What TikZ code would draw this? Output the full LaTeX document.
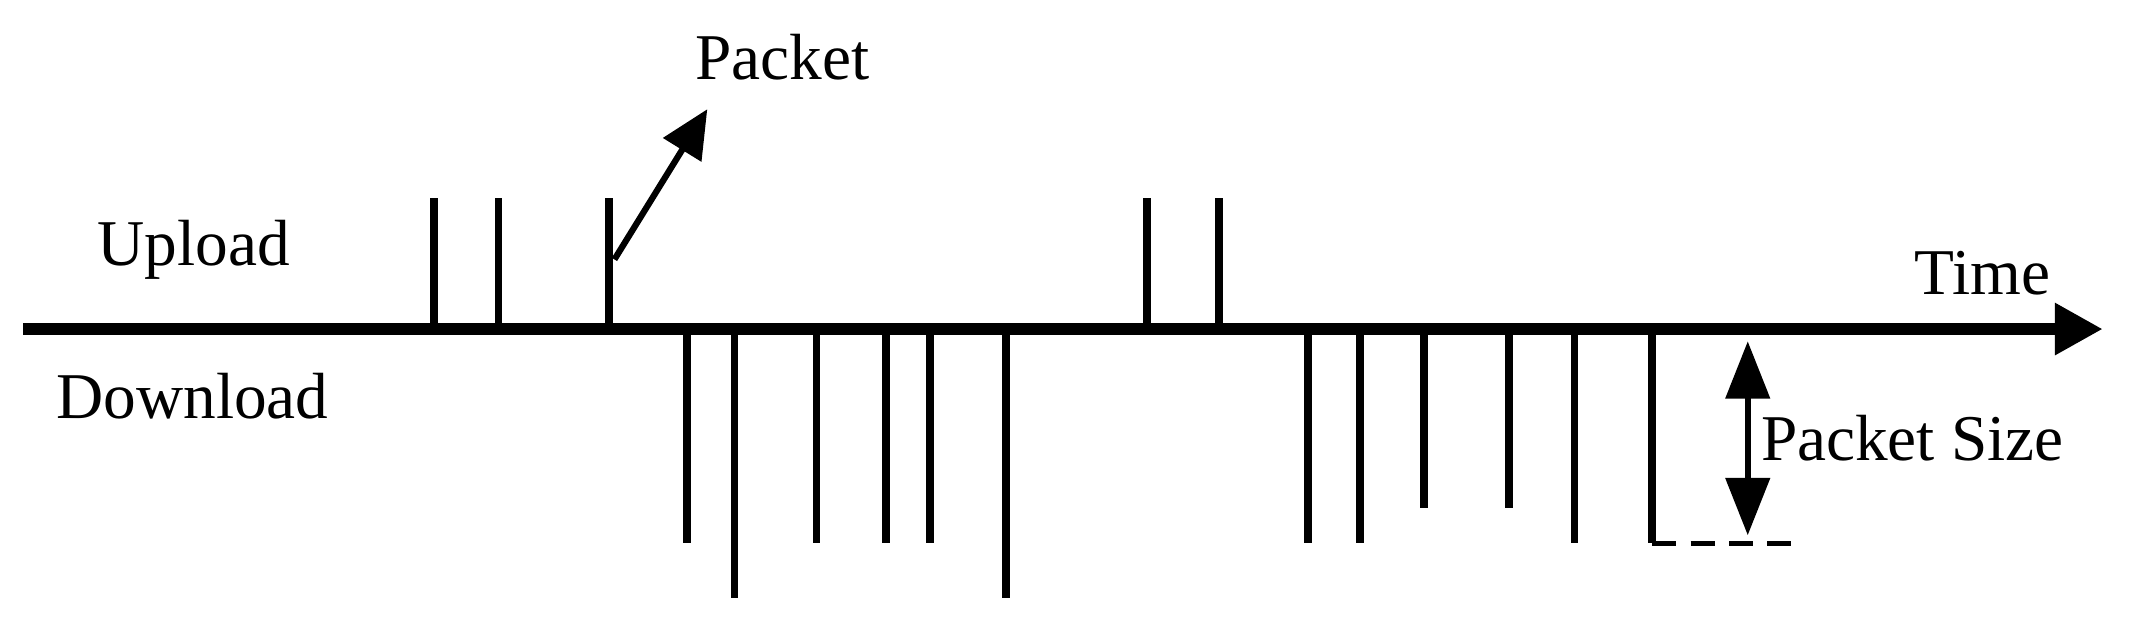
\documentclass[tikz,border=0pt]{standalone}
\usepackage{fontspec}
\setmainfont{Liberation Serif}
\usetikzlibrary{arrows.meta}
\begin{document}
\begin{tikzpicture}[x=0.01cm,y=-0.01cm,
  lbl/.style={font=\fontsize{13.6}{15}\selectfont, inner sep=0pt},
  bar/.style={line width=1.6pt},
  bighead/.style={-{Triangle[length=0.35cm,width=0.36cm]}}]
\useasboundingbox (0,0) rectangle (1568,465);
\coordinate (a0) at (17,241);
\coordinate (a1) at (1540,241);
\draw[line width=2.4pt, bighead] (a0) -- (a1);
\foreach \x in {318,365,446,840,893} \draw[bar] (\x,241) -- (\x,145);
\foreach \x/\y in {503/398,538/438,598/398,649/398,681/398,737/438,958/398,996/398,1043/372,1105/372,1153/398,1210/398}
  \draw[bar] (\x,241) -- (\x,\y);
\coordinate (d0) at (1210,398);
\coordinate (d1) at (1315,398);
\draw[line width=1.1pt, dashed, dash pattern=on 5pt off 3pt] (d0) -- (d1);
\coordinate (s0) at (1280,250);
\coordinate (s1) at (1280,392);
\draw[line width=1.2pt, {Triangle[length=0.42cm,width=0.32cm]}-{Triangle[length=0.42cm,width=0.32cm]}] (s0) -- (s1);
\coordinate (p0) at (450,190);
\coordinate (p1) at (518,80);
\draw[line width=1.3pt, -{Triangle[length=0.35cm,width=0.32cm]}] (p0) -- (p1);
\node[lbl] (packet) at (573,42) {Packet};
\node[lbl] (upload) at (142,183) {Upload};
\node[lbl] (download) at (141,290) {Download};
\node[lbl] (time) at (1452,200) {Time};
\node[lbl, anchor=west] (size) at (1289,321) {Packet Size};
\end{tikzpicture}
\end{document}
